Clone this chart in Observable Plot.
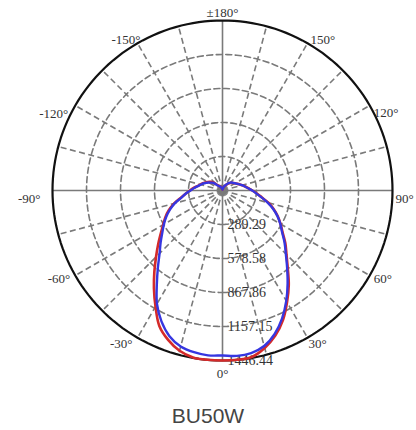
<!DOCTYPE html>
<html>
<head>
<meta charset="utf-8">
<script src="https://cdn.jsdelivr.net/npm/d3@7"></script>
<script src="https://cdn.jsdelivr.net/npm/@observablehq/plot@0.6"></script>
<style>
  html, body { margin: 0; padding: 0; background: #fff; }
  #chart svg { display: block; }
  #title { width: 416px; text-align: center; font-family: "Liberation Sans", Arial, sans-serif; font-size: 21px; line-height: 24px; color: #444; padding-top: 4px; }
</style>
</head>
<body>
<div id="chart"></div>
<div id="title">BU50W</div>
<script>
// ---- data ----
const angles = [-180,-175,-170,-165,-160,-155,-150,-145,-140,-135,-130,-125,-120,-115,-110,-105,-100,-95,-90,-85,-80,-75,-70,-65,-60,-55,-50,-45,-40,-35,-30,-25,-20,-15,-10,-5,0,5,10,15,20,25,30,35,40,45,50,55,60,65,70,75,80,85,90,95,100,105,110,115,120,125,130,135,140,145,150,155,160,165,170,175,180];
const redValues = [9,13,17,21,26,32,40,47,55,70,110,128,145,162,179,196,217,247,277,315,362,425,485,536,583,642,715,800,902,1017,1140,1272,1353,1412,1442,1446,1446,1446,1438,1387,1314,1217,1098,983,864,770,698,625,570,519,464,404,340,294,255,221,196,174,153,136,123,111,102,89,77,64,51,43,34,26,17,13,9];
const blueValues = [9,13,17,21,26,30,38,43,51,64,102,117,136,153,174,191,213,242,272,315,357,421,476,528,576,625,687,757,855,974,1115,1229,1319,1374,1397,1408,1404,1412,1404,1370,1298,1200,1085,966,855,762,689,619,568,516,459,398,337,289,253,219,194,173,153,136,123,112,105,94,81,68,55,43,34,26,17,13,9];
const ringValues = [289.29, 578.58, 867.86, 1157.15, 1446.44];
const ringLabels = ["289.29", "578.58", "867.86", "1157.15", "1446.44"];
const angleTicks = [0, 30, 60, 90, 120, 150, 180, -150, -120, -90, -60, -30];
const angleLabels = ["0°", "30°", "60°", "90°", "120°", "150°", "±180°", "-150°", "-120°", "-90°", "-60°", "-30°"];
const spokeAngles = [15, 30, 45, 60, 75, 105, 120, 135, 150, 165, 195, 210, 225, 240, 255, 285, 300, 315, 330, 345];

// ---- helpers ----
const R = ringValues[ringValues.length - 1];
const rad = a => a * Math.PI / 180;
const px = (r, a) => r * Math.sin(rad(a));
const py = (r, a) => r * Math.cos(rad(a));

const series = [
  ...angles.map((a, i) => ({a, v: redValues[i], s: "red"})),
  ...angles.map((a, i) => ({a, v: blueValues[i], s: "blue"}))
];
const circleSteps = d3.range(0, 361, 2);
const ringPts = ringValues.slice(0, -1).flatMap((r, k) => circleSteps.map(a => ({r, a, k})));
const outerPts = circleSteps.map(a => ({r: R, a}));

// label placement (pixel offsets from the outer circle point)
const offs = {0: [0, 13], 30: [1, 6, -5, 6], 60: [4, 3, -5, 3], 90: [3, 8, -12, 8], 120: [4, 7, -7, 8], 150: [3, -3, 3, -3], 180: [0, -8]};
const offDX = a => { const o = offs[Math.abs(a)]; return (a < 0 && o.length > 2) ? o[2] : o[0]; };
const offDY = a => { const o = offs[Math.abs(a)]; return (a < 0 && o.length > 2) ? o[3] : o[1]; };
const anchor = a => (a === 0 || Math.abs(a) === 180) ? "middle" : (a > 0 ? "start" : "end");

const gridColor = "#7a7a7a";
const serif = "'Liberation Serif', 'Times New Roman', serif";

const angleLabelMarks = angleTicks.map((a, i) =>
  Plot.text([a], {x: d => px(R, d), y: d => py(R, d), text: () => angleLabels[i], textAnchor: anchor(a), dx: offDX(a), dy: offDY(a), fontSize: 13, fontFamily: serif, fill: "#333"})
);

const chart = Plot.plot({
  width: 416,
  height: 400,
  margin: 0,
  style: {background: "#fff", overflow: "visible"},
  x: {domain: [-R, R], range: [52, 392], axis: null},
  y: {domain: [-R, R], range: [20, 360], axis: null},
  marks: [
    Plot.line(ringPts, {x: d => px(d.r, d.a), y: d => py(d.r, d.a), z: "k", stroke: gridColor, strokeWidth: 1.6, strokeDasharray: "6,3.5"}),
    Plot.link(spokeAngles, {x1: 0, y1: 0, x2: a => px(R, a), y2: a => py(R, a), stroke: gridColor, strokeWidth: 1.6, strokeDasharray: "6,3.5"}),
    Plot.link([0, 90], {x1: a => px(R, a), y1: a => py(R, a), x2: a => px(R, a + 180), y2: a => py(R, a + 180), stroke: gridColor, strokeWidth: 1.6}),
    Plot.text(ringValues, {x: 0, y: d => d, text: (d, i) => ringLabels[i], textAnchor: "start", dx: 5, fontSize: 14, fontFamily: serif, fill: "#333"}),
    Plot.line(outerPts, {x: d => px(d.r, d.a), y: d => py(d.r, d.a), stroke: "#111", strokeWidth: 2.2}),
    Plot.line(series, {filter: d => d.s === "red", x: d => px(d.v, d.a), y: d => py(d.v, d.a), stroke: "#d42a2a", strokeWidth: 2.6, curve: "catmull-rom"}),
    Plot.line(series, {filter: d => d.s === "blue", x: d => px(d.v, d.a), y: d => py(d.v, d.a), stroke: "#3636e0", strokeWidth: 2.4, curve: "catmull-rom"}),
    ...angleLabelMarks
  ]
});
document.getElementById("chart").appendChild(chart);
</script>
</body>
</html>
